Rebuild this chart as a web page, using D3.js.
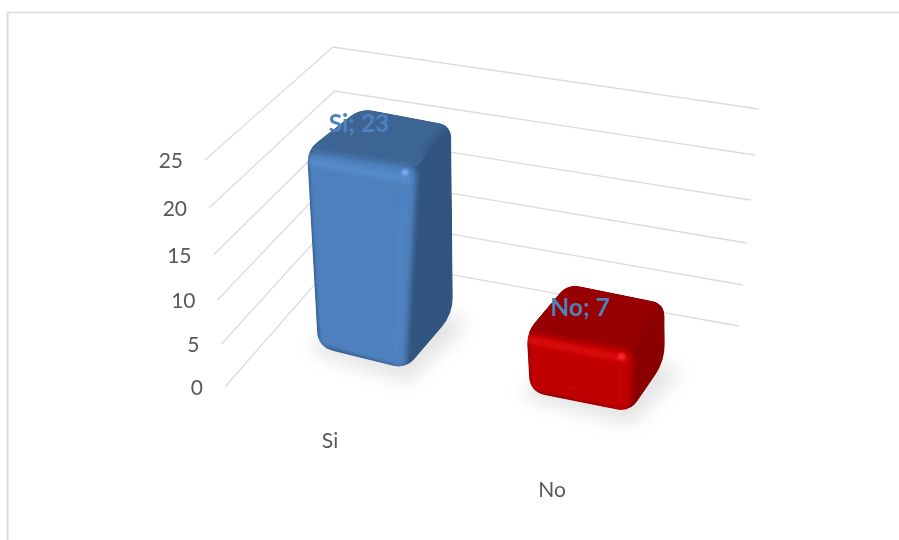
<!DOCTYPE html>
<html><head><meta charset="utf-8">
<script src="https://cdn.jsdelivr.net/npm/d3@7/dist/d3.min.js"></script>
<style>html,body{margin:0;padding:0;background:#fff}svg{display:block}text{font-family:Lato,"Open Sans",sans-serif}</style>
</head><body><svg id="c" width="899" height="540"></svg>
<script>
const categories = ["Si", "No"];
const values = [23, 7];
const axisTicks = [0, 5, 10, 15, 20, 25];

// Oblique wall/floor projection: pixel position of each gridline vertex by tick value
const frontX = d3.scaleLinear().domain(axisTicks).range([225, 221.5, 217.5, 213.5, 209, 205]);
const frontY = d3.scaleLinear().domain(axisTicks).range([387, 344, 300, 255, 208, 160]);
const backX  = d3.scaleLinear().domain(axisTicks).range([340.5, 339, 337.5, 336, 334.5, 333]);
const backY  = d3.scaleLinear().domain(axisTicks).range([255, 214.5, 174, 134, 91, 47]);
const rightX = d3.scaleLinear().domain(axisTicks).range([739, 743, 746.5, 750.5, 754.5, 759]);
const rightY = d3.scaleLinear().domain(axisTicks).range([326, 285, 243, 200, 155, 109]);
const rise = d3.scaleLinear().domain([0, 25]).range([0, 1]);

const floors = [
  {fl:[318,347], fr:[406,369], br:[453,314], bl:[365,296]},
  {fl:[530,392], fr:[630,412], br:[665,361], bl:[569,341]}
];
const lean = {fl:[-12,-214], fr:[12,-220], br:[-2,-205], bl:[-5,-204]};
const palettes = [
  {front:"#4e80bd", top:"#3d6594", side:"#31557f", edge:"#5a8ece", spot:"#74aaf0", dark:"#2b4c75"},
  {front:"#c00000", top:"#960000", side:"#8a0000", edge:"#dd0808", spot:"#f52a2a", dark:"#7a0000"}
];
const catLabelPos = [[330,441],[552,490]];
const labelPos = [[359,124],[580,308]];

const svg = d3.select("#c");
const defs = svg.append("defs");
[["b1",1.3],["b2",2.4],["b3",3.5],["shadow",9],["soft",0.35]].forEach(([id,s])=>{
  defs.append("filter").attr("id",id).attr("x","-30%").attr("y","-30%").attr("width","160%").attr("height","160%")
    .append("feGaussianBlur").attr("stdDeviation",s);
});

// chart frame
svg.append("line").attr("x1",7).attr("x2",899).attr("y1",12.5).attr("y2",12.5).attr("stroke","#dcdcdc").attr("stroke-width",1.6);
svg.append("line").attr("x1",7.5).attr("x2",7.5).attr("y1",12).attr("y2",540).attr("stroke","#dcdcdc").attr("stroke-width",2);

// gridlines
const grid = svg.append("g").attr("fill","none").attr("stroke","#dcdcdc").attr("stroke-width",1.3);
axisTicks.forEach(t=>{
  grid.append("polyline").attr("points",[[frontX(t),frontY(t)],[backX(t),backY(t)],[rightX(t),rightY(t)]].join(" "));
});

// tick labels
svg.append("g").selectAll("text").data(axisTicks).join("text")
  .attr("x",t=>frontX(t)-22).attr("y",t=>frontY(t)+7.5)
  .attr("text-anchor","end").attr("font-size",21).attr("fill","#595959").attr("filter","url(#soft)").text(t=>t);

function rounded(pts,r){
  const n=pts.length; let d="";
  pts.forEach((p,i)=>{
    const a=pts[(i+n-1)%n], b=pts[(i+1)%n];
    const rr=Array.isArray(r)?r[i]:r;
    const la=Math.hypot(a[0]-p[0],a[1]-p[1]), lb=Math.hypot(b[0]-p[0],b[1]-p[1]);
    const s=[p[0]+(a[0]-p[0])*rr/la,p[1]+(a[1]-p[1])*rr/la];
    const e=[p[0]+(b[0]-p[0])*rr/lb,p[1]+(b[1]-p[1])*rr/lb];
    d+=(i?"L":"M")+s[0]+" "+s[1]+"Q"+p[0]+" "+p[1]+" "+e[0]+" "+e[1];
  });
  return d+"Z";
}
const mix=(p,q,t)=>[p[0]+(q[0]-p[0])*t,p[1]+(q[1]-p[1])*t];

values.forEach((v,i)=>{
  const f=floors[i], c=palettes[i], k=rise(v);
  const top={}; Object.keys(f).forEach(n=>top[n]=[f[n][0]+lean[n][0]*k,f[n][1]+lean[n][1]*k]);
  const g=svg.append("g");
  // shadow on the floor
  g.append("path").attr("d",rounded([[f.fl[0]-10,f.fl[1]+4],[f.fr[0]+2,f.fr[1]+14],[f.br[0]+18,f.br[1]+8],[f.bl[0],f.bl[1]]],10))
    .attr("fill","#c4c4c4").attr("opacity",.45).attr("filter","url(#shadow)");
  const sil=[f.fl,f.fr,f.br,top.br,top.bl,top.fl];
  const clipId="clip"+i;
  defs.append("clipPath").attr("id",clipId).append("path").attr("d",rounded(sil,[16,14,18,14,14,14]));
  const b=g.append("g").attr("clip-path",`url(#${clipId})`);
  b.append("path").attr("d",rounded(sil,12)).attr("fill",c.side);
  // top face
  b.append("polygon").attr("points",[top.fl,top.fr,top.br,top.bl].join(" ")).attr("fill",c.top);
  // right-hand side face soft bevels
  const t1=mix(top.fr,top.br,.25);
  b.append("polyline").attr("points",[t1,top.br].join(" ")).attr("stroke",c.side).attr("stroke-width",10).attr("fill","none").attr("filter","url(#b3)");
  // front face
  const inset=9;
  const frontFace=[top.fl,top.fr,f.fr,f.fl];
  b.append("path").attr("d",rounded(frontFace,10)).attr("fill",c.front).attr("filter","url(#b2)");
  // bevel highlights on the front
  const tl=mix(top.fl,f.fl,.03), tr=mix(top.fr,f.fr,.03);
  b.append("line").attr("x1",tl[0]).attr("y1",tl[1]+inset*.6).attr("x2",tr[0]-6).attr("y2",tr[1]+inset*.8)
    .attr("stroke",c.edge).attr("stroke-width",8).attr("opacity",.85).attr("filter","url(#b2)");
  const rt=[top.fr[0]-12,top.fr[1]+12], rb=[f.fr[0]-10,f.fr[1]-12];
  b.append("line").attr("x1",rt[0]).attr("y1",rt[1]).attr("x2",rb[0]).attr("y2",rb[1])
    .attr("stroke",c.edge).attr("stroke-width",7).attr("opacity",.3).attr("filter","url(#b2)");
  // left edge shade
  b.append("line").attr("x1",top.fl[0]).attr("y1",top.fl[1]+12).attr("x2",f.fl[0]).attr("y2",f.fl[1]-8)
    .attr("stroke",c.dark).attr("stroke-width",2).attr("opacity",.4).attr("filter","url(#b1)");
  // bottom edge shade
  b.append("line").attr("x1",f.fl[0]+8).attr("y1",f.fl[1]).attr("x2",f.fr[0]-8).attr("y2",f.fr[1])
    .attr("stroke",c.dark).attr("stroke-width",2.5).attr("opacity",.4).attr("filter","url(#b1)");
  // corner spot
  b.append("circle").attr("cx",top.fr[0]-12).attr("cy",top.fr[1]+6).attr("r",3.5).attr("fill",c.spot).attr("filter","url(#b1)");
});

// category labels
svg.append("g").selectAll("text").data(categories).join("text")
  .attr("x",(d,i)=>catLabelPos[i][0]).attr("y",(d,i)=>catLabelPos[i][1]+7)
  .attr("text-anchor","middle").attr("font-size",21).attr("fill","#595959").attr("filter","url(#soft)").text(d=>d);

// data labels
svg.append("g").selectAll("text").data(categories).join("text")
  .attr("x",(d,i)=>labelPos[i][0]).attr("y",(d,i)=>labelPos[i][1]+8)
  .attr("text-anchor","middle").attr("font-size",24.5).attr("font-weight",700).attr("fill","#4f81bd").attr("filter","url(#soft)")
  .text((d,i)=>`${d}; ${values[i]}`);
</script></body></html>
